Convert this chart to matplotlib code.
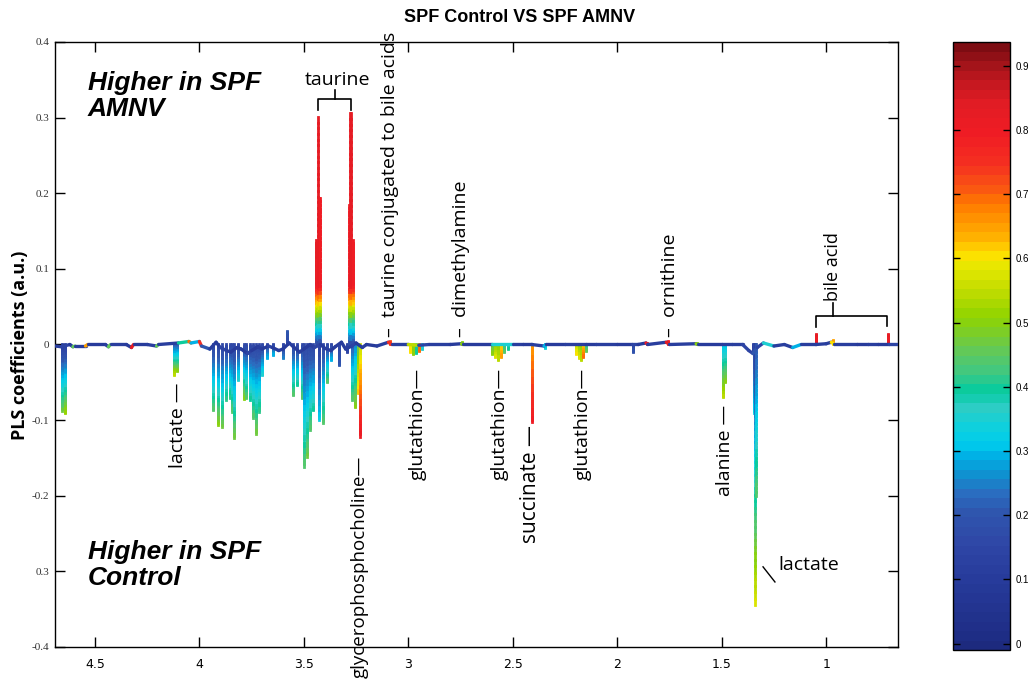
import numpy as np
import matplotlib
matplotlib.use("Agg")
import matplotlib.pyplot as plt
from matplotlib.collections import LineCollection
from matplotlib.colors import LinearSegmentedColormap, Normalize
from matplotlib.cm import ScalarMappable

# ---------------- data ----------------
title = "SPF Control VS SPF AMNV"
ylabel = "PLS coefficients (a.u.)"

x_ticks = [4.5, 4, 3.5, 3, 2.5, 2, 1.5, 1]
x_ticklabels = ["4.5", "4", "3.5", "3", "2.5", "2", "1.5", "1"]
y_ticks = [-0.4, -0.3, -0.2, -0.1, 0, 0.1, 0.2, 0.3, 0.4]
y_ticklabels = ["-0.4", "0.3", "-0.2", "-0.1", "0", "0.1", "0.2", "0.3", "0.4"]
cbar_ticks = [0, 0.1, 0.2, 0.3, 0.4, 0.5, 0.6, 0.7, 0.8, 0.9]

# baseline trace: ppm, coefficient, colour value
base_ppm = [4.69, 4.66, 4.62, 4.605, 4.595, 4.545, 4.535, 4.45, 4.435, 4.425, 4.35, 4.325, 4.315,
            4.25, 4.205, 4.195, 4.10, 4.05, 4.04, 4.00, 3.99, 3.95, 3.92, 3.90, 3.87, 3.85,
            3.82, 3.80, 3.77, 3.75, 3.72, 3.70, 3.67, 3.65, 3.62, 3.60, 3.57, 3.55, 3.52,
            3.50, 3.47, 3.45, 3.42, 3.40, 3.37, 3.35, 3.32, 3.30, 3.27, 3.25, 3.22, 3.20,
            3.15, 3.095, 3.08, 3.00, 2.95, 2.90, 2.80, 2.745, 2.74, 2.60, 2.50, 2.45, 2.41,
            2.35, 2.34, 2.25, 2.15, 2.10, 2.00, 1.93, 1.90, 1.862, 1.854, 1.765, 1.75, 1.622,
            1.615, 1.50, 1.45, 1.40, 1.37, 1.35, 1.33, 1.30, 1.25, 1.20, 1.16, 1.12, 1.05,
            1.00, 0.975, 0.96, 0.85, 0.80, 0.75, 0.70, 0.656]
base_coef = [-0.002, -0.003, 0.0, -0.003, -0.002, -0.002, 0.0, 0.0, -0.003, 0.0, 0.0, -0.004, 0.0,
             0.0, -0.002, 0.0, 0.002, 0.004, 0.002, 0.004, -0.002, -0.006, 0.003, -0.004, -0.008, -0.01,
             -0.004, -0.006, -0.012, -0.008, -0.003, -0.006, -0.002, -0.004, -0.008, -0.006, 0.002, -0.003, -0.01,
             -0.006, 0.0, -0.004, 0.0, -0.005, -0.008, -0.003, 0.003, -0.006, -0.002, 0.002, -0.004, 0.0,
             -0.002, 0.003, 0.0, 0.0, -0.001, 0.0, 0.0, 0.001, 0.0, 0.0, 0.0, 0.0, 0.0,
             -0.002, 0.0, 0.0, 0.0, 0.0, 0.0, 0.0, 0.0, 0.002, 0.0, 0.003, 0.0, 0.001,
             0.0, 0.0, 0.0, 0.0, -0.008, -0.012, -0.004, 0.002, -0.002, 0.0, -0.004, 0.0, 0.0,
             0.001, 0.003, 0.0, 0.0, 0.0, 0.0, 0.0, 0.0]
base_corr = [0.12, 0.15, 0.1, 0.45, 0.1, 0.65, 0.1, 0.12, 0.45, 0.12, 0.1, 0.82, 0.1,
             0.12, 0.45, 0.12, 0.4, 0.7, 0.3, 0.75, 0.2, 0.12, 0.1, 0.15, 0.12, 0.1,
             0.12, 0.1, 0.15, 0.1, 0.12, 0.1, 0.15, 0.1, 0.12, 0.1, 0.12, 0.1, 0.12,
             0.1, 0.12, 0.15, 0.1, 0.12, 0.1, 0.12, 0.1, 0.12, 0.15, 0.1, 0.12, 0.1,
             0.12, 0.75, 0.12, 0.55, 0.15, 0.12, 0.1, 0.5, 0.1, 0.35, 0.12, 0.1, 0.12,
             0.3, 0.1, 0.12, 0.1, 0.12, 0.1, 0.15, 0.1, 0.8, 0.12, 0.82, 0.12, 0.5,
             0.1, 0.12, 0.12, 0.15, 0.15, 0.2, 0.15, 0.35, 0.12, 0.12, 0.3, 0.12, 0.12,
             0.12, 0.6, 0.12, 0.1, 0.12, 0.1, 0.15, 0.12]

# spikes: ppm, tip coefficient, colour at tip, colour at root
spike_ppm = [4.658, 4.641,
             4.122, 4.107,
             3.935, 3.911, 3.892, 3.873, 3.854, 3.844, 3.835, 3.815, 3.787, 3.777, 3.758,
             3.744, 3.729, 3.715, 3.701, 3.677, 3.648, 3.600, 3.581, 3.552, 3.533, 3.509,
             3.500, 3.485, 3.471, 3.456, 3.428, 3.409, 3.390, 3.370, 3.332, 3.294,
             3.270, 3.256, 3.241, 3.231,
             3.442, 3.437, 3.433, 3.428, 3.423, 3.284, 3.279, 3.275, 3.265,
             3.088, 2.992, 2.978, 2.964, 2.950, 2.935, 2.743,
             2.600, 2.585, 2.571, 2.556, 2.542, 2.523, 2.408, 2.346,
             2.197, 2.183, 2.173, 2.164, 2.150, 1.925, 1.858, 1.757, 1.618,
             1.494, 1.485, 1.351, 1.346, 1.341, 1.336, 1.049, 0.967, 0.704]
spike_tip = [-0.088, -0.091,
             -0.040, -0.035,
             -0.087, -0.106, -0.109, -0.073, -0.071, -0.089, -0.124, -0.047, -0.072, -0.071, -0.073,
             -0.097, -0.119, -0.089, -0.040, -0.018, -0.014, -0.018, 0.018, -0.067, -0.054, -0.071,
             -0.162, -0.149, -0.113, -0.087, -0.100, -0.104, -0.050, -0.020, -0.027, -0.010,
             -0.073, -0.083, -0.064, -0.122,
             0.138, 0.112, 0.301, 0.194, 0.194, 0.185, 0.306, 0.306, 0.138,
             0.005, -0.010, -0.013, -0.011, -0.008, -0.006, 0.003,
             -0.012, -0.017, -0.020, -0.016, -0.010, -0.006, -0.103, -0.005,
             -0.012, -0.018, -0.020, -0.016, -0.008, -0.010, 0.002, 0.004, 0.002,
             -0.070, -0.050, -0.010, -0.090, -0.345, -0.200, 0.014, 0.006, 0.014]
spike_corr = [0.47, 0.52,
              0.55, 0.5,
              0.45, 0.5, 0.47, 0.42, 0.42, 0.45, 0.48, 0.35, 0.5, 0.45, 0.4,
              0.45, 0.48, 0.42, 0.35, 0.3, 0.3, 0.25, 0.2, 0.45, 0.4, 0.45,
              0.45, 0.47, 0.45, 0.4, 0.32, 0.45, 0.45, 0.3, 0.2, 0.15,
              0.45, 0.5, 0.62, 0.82,
              0.82, 0.8, 0.82, 0.82, 0.8, 0.8, 0.82, 0.82, 0.8,
              0.72, 0.6, 0.5, 0.4, 0.7, 0.35, 0.5,
              0.5, 0.58, 0.55, 0.65, 0.45, 0.4, 0.8, 0.35,
              0.6, 0.58, 0.55, 0.7, 0.45, 0.2, 0.8, 0.8, 0.5,
              0.55, 0.5, 0.15, 0.32, 0.58, 0.45, 0.82, 0.65, 0.82]
spike_root = [0.12, 0.12,
              0.2, 0.2,
              0.15, 0.15, 0.15, 0.15, 0.15, 0.15, 0.15, 0.15, 0.15, 0.15, 0.15,
              0.15, 0.15, 0.15, 0.15, 0.15, 0.15, 0.15, 0.15, 0.15, 0.15, 0.15,
              0.15, 0.15, 0.15, 0.15, 0.12, 0.15, 0.15, 0.15, 0.15, 0.15,
              0.2, 0.25, 0.45, 0.55,
              0.15, 0.15, 0.15, 0.15, 0.15, 0.15, 0.15, 0.15, 0.15,
              0.72, 0.6, 0.5, 0.4, 0.7, 0.35, 0.5,
              0.45, 0.5, 0.5, 0.6, 0.4, 0.35, 0.65, 0.3,
              0.55, 0.5, 0.5, 0.6, 0.4, 0.15, 0.8, 0.8, 0.5,
              0.3, 0.3, 0.12, 0.15, 0.12, 0.2, 0.8, 0.6, 0.8]

# colour scale anchors (value, colour)
cmap_vals = [-0.01, 0.00, 0.10, 0.15, 0.20, 0.23, 0.26, 0.29, 0.31, 0.34, 0.37, 0.39, 0.42,
             0.45, 0.48, 0.51, 0.55, 0.59, 0.61, 0.63, 0.66, 0.69, 0.71, 0.75, 0.80, 0.85,
             0.88, 0.91, 0.937]
cmap_cols = ["#1d2a7e", "#1e2c84", "#273c9c", "#2f46a6", "#2f56ae", "#2a6cc0", "#0f90d0", "#00b0e6",
             "#00cdec", "#12d0da", "#30ccc2", "#00cca2", "#3ec884", "#5cc862", "#78cc30", "#90d400",
             "#c0dc00", "#e8e800", "#ffe000", "#ffb800", "#ff9800", "#ff7800", "#fa5a10", "#f53020",
             "#f01c24", "#e01c24", "#c41820", "#a01419", "#7d0c12"]

# ---------------- figure ----------------
W, H = 1029, 679
fig = plt.figure(figsize=(W / 100, H / 100), dpi=100)
ax = fig.add_axes([55 / W, 1 - 647 / H, (898 - 55) / W, (647 - 42) / H])
cax = fig.add_axes([953 / W, 1 - 650 / H, 57 / W, (650 - 42) / H])

vmin, vmax = cmap_vals[0], cmap_vals[-1]
pos = [(v - vmin) / (vmax - vmin) for v in cmap_vals]
cmap = LinearSegmentedColormap.from_list("pls", list(zip(pos, cmap_cols)), N=64)
norm = Normalize(vmin, vmax)

# spikes
for p, tip, ct, cr in zip(spike_ppm, spike_tip, spike_corr, spike_root):
    n = 40
    ys = np.linspace(0, tip, n + 1)
    if tip > 0:
        ramp = min(abs(tip), 0.08)
    else:
        ramp = abs(tip)
    frac = np.clip(np.abs(ys[:-1] + ys[1:]) / 2 / ramp, 0, 1)
    cols = cmap(norm(cr + (ct - cr) * frac))
    segs = [[(p, ys[i]), (p, ys[i + 1])] for i in range(n)]
    lc = LineCollection(segs, colors=cols, linewidths=2.0, capstyle="projecting", zorder=2)
    ax.add_collection(lc)

# baseline
bx = np.array(base_ppm)
by = np.array(base_coef)
bc = np.array(base_corr)
segs = [[(bx[i], by[i]), (bx[i + 1], by[i + 1])] for i in range(len(bx) - 1)]
lc = LineCollection(segs, colors=cmap(norm(bc[:-1])), linewidths=2.4, capstyle="round",
                    joinstyle="round", zorder=3)
ax.add_collection(lc)

ax.set_xlim(4.691, 0.656)
ax.set_ylim(-0.4, 0.4)
ax.set_xticks(x_ticks)
ax.set_xticklabels(x_ticklabels, family=["Liberation Sans Narrow", "DejaVu Sans"], fontsize=9)
ax.set_yticks(y_ticks)
ax.set_yticklabels(y_ticklabels, family=["Liberation Serif", "DejaVu Serif"], fontsize=8, color="#333333")
ax.tick_params(direction="in", length=7, width=1, top=True, right=True, pad=4)
ax.tick_params(axis="x", pad=8)
for s in ax.spines.values():
    s.set_linewidth(1.0)

fig.text(520 / W, 1 - 17 / H, title, ha="center", va="center", fontsize=13, fontweight="bold",
         family=["Liberation Sans", "DejaVu Sans"])
fig.text(20 / W, 1 - 345 / H, ylabel, ha="center", va="center", rotation=90, fontsize=13,
         fontweight="bold", family=["Open Sans", "DejaVu Sans"])

# big italic annotations
big = dict(ha="left", va="top", fontsize=19, fontweight="bold", style="italic",
           family=["Liberation Sans", "DejaVu Sans"], linespacing=1.1)
ax.text(4.534, 0.362, "Higher in SPF\nAMNV", **big)
ax.text(4.534, -0.258, "Higher in SPF\nControl", **big)

lab = dict(family=["Open Sans", "DejaVu Sans"], fontsize=14, color="black", clip_on=False)
# taurine bracket
ax.text(3.337, 0.35, "taurine", ha="center", va="center", **lab)
ax.plot([3.433, 3.433, 3.275, 3.275], [0.310, 0.325, 0.325, 0.310], color="black", lw=1.2)
ax.plot([3.351, 3.351], [0.325, 0.337], color="black", lw=1.2)
# bile acid bracket
ax.plot([1.049, 1.049, 0.709, 0.709], [0.023, 0.038, 0.038, 0.025], color="black", lw=1.2, clip_on=False)
ax.plot([0.967, 0.967], [0.038, 0.055], color="black", lw=1.2)

ax.text(3.088, 0.010, "–  taurine conjugated to bile acids", rotation=90, ha="center", va="bottom", **lab)
ax.text(2.748, 0.010, "–  dimethylamine", rotation=90, ha="center", va="bottom", **lab)
ax.text(1.747, 0.010, "–  ornithine", rotation=90, ha="center", va="bottom", **lab)
ax.text(0.967, 0.058, "bile acid", rotation=90, ha="center", va="bottom",
        **{**lab, "fontsize": 13})

ax.text(4.103, -0.051, "lactate —", rotation=90, ha="center", va="top", **lab)
ax.text(3.231, -0.147, "glycerophosphocholine—", rotation=90, ha="center", va="top",
        **{**lab, "fontsize": 13.5})
ax.text(2.954, -0.031, "glutathion—", rotation=90, ha="center", va="top", **lab)
ax.text(2.561, -0.031, "glutathion—", rotation=90, ha="center", va="top", **lab)
ax.text(2.413, -0.106, "succinate —", rotation=90, ha="center", va="top", **{**lab, "fontsize": 15})
ax.text(2.164, -0.031, "glutathion—", rotation=90, ha="center", va="top", **lab)
ax.text(1.484, -0.080, "alanine —", rotation=90, ha="center", va="top", **lab)
ax.text(1.230, -0.292, "lactate", ha="left", va="center", **lab)
ax.plot([1.302, 1.245], [-0.294, -0.314], color="black", lw=1.0)

# colorbar
sm = ScalarMappable(norm=norm, cmap=cmap)
cb = fig.colorbar(sm, cax=cax, ticks=cbar_ticks)
cb.ax.set_yticklabels([f"{t:g}" for t in cbar_ticks], fontsize=7, family=["Liberation Sans", "DejaVu Sans"])
cb.ax.tick_params(direction="in", length=5, width=1, left=True, right=True, pad=4)
cb.outline.set_linewidth(1.0)

fig.savefig("out.png", dpi=100)
